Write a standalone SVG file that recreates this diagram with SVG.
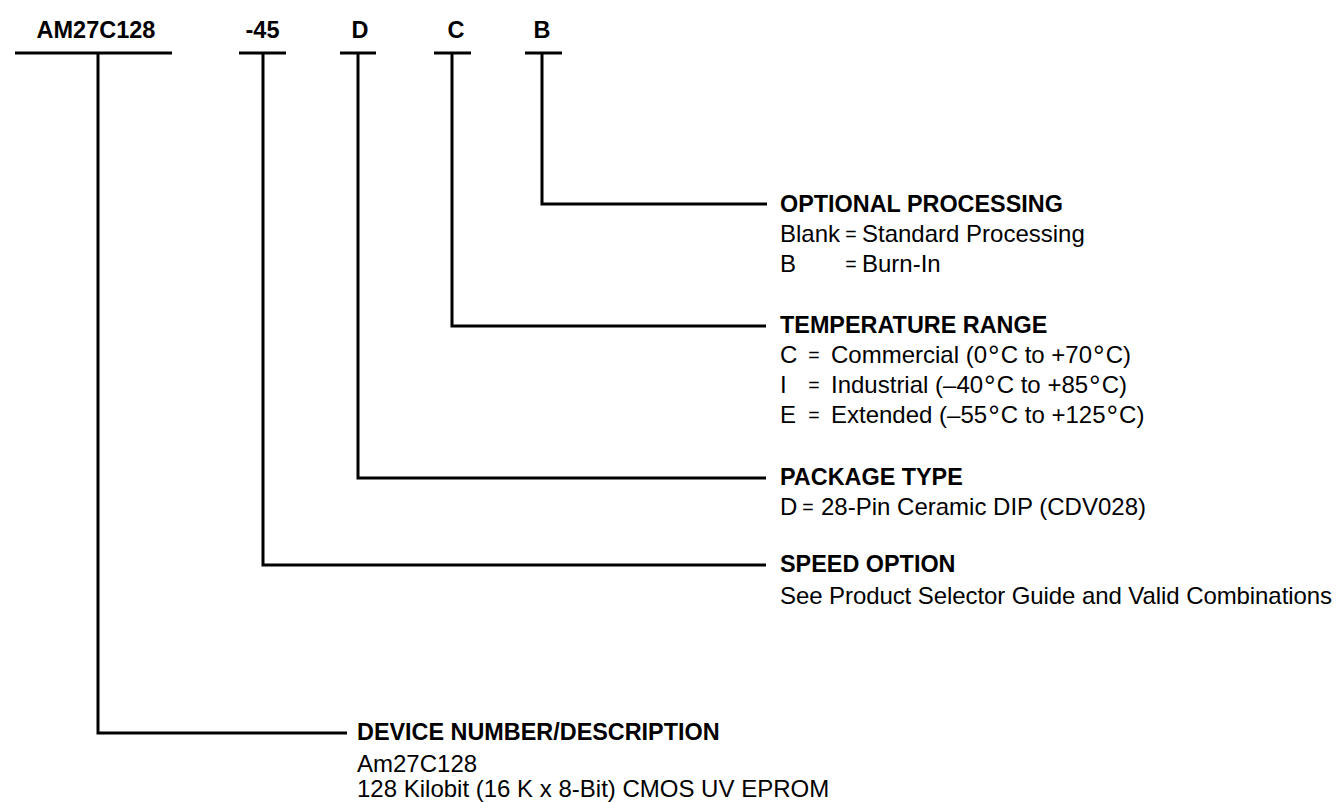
<svg xmlns="http://www.w3.org/2000/svg" width="1338" height="802" viewBox="0 0 1338 802">
<style>
  text { font-family: "Liberation Sans", Arial, Helvetica, sans-serif; fill: #000; }
  .lbl { font-size: 23.5px; font-weight: bold; text-anchor: middle; }
  .hd { font-size: 23.4px; font-weight: bold; }
  .bd { font-size: 24px; }
  .eq { font-size: 19.5px; text-anchor: middle; }
  .dg { font-size: 29px; }
  .ln { fill: none; stroke: #000; stroke-width: 3; }
</style>
<rect width="1338" height="802" fill="#fff"/>
<g id="connectors">
  <line class="ln" x1="15" y1="53" x2="172" y2="53"/>
  <line class="ln" x1="239" y1="53" x2="286" y2="53"/>
  <line class="ln" x1="340" y1="53" x2="376" y2="53"/>
  <line class="ln" x1="434" y1="53" x2="471" y2="53"/>
  <line class="ln" x1="525" y1="53" x2="562" y2="53"/>
  <path class="ln" d="M98,53 V733 H347"/>
  <path class="ln" d="M263,53 V565 H766"/>
  <path class="ln" d="M358,53 V478 H766"/>
  <path class="ln" d="M452,53 V326 H766"/>
  <path class="ln" d="M542,53 V204 H767"/>
</g>
<g id="label-device"><text class="lbl" x="96" y="38">AM27C128</text></g>
<g id="label-speed"><text class="lbl" x="262.5" y="38">-45</text></g>
<g id="label-package"><text class="lbl" x="360" y="38">D</text></g>
<g id="label-temp"><text class="lbl" x="456" y="38">C</text></g>
<g id="label-proc"><text class="lbl" x="542" y="38">B</text></g>
<g id="optional-processing">
  <text class="hd" x="780" y="212">OPTIONAL PROCESSING</text>
  <text class="bd" x="780" y="242">Blank</text>
  <text class="eq" x="851" y="241">=</text>
  <text class="bd" x="862" y="242">Standard Processing</text>
  <text class="bd" x="780" y="272">B</text>
  <text class="eq" x="851" y="271">=</text>
  <text class="bd" x="862" y="272">Burn-In</text>
</g>
<g id="temperature-range">
  <text class="hd" x="780" y="333">TEMPERATURE RANGE</text>
  <text class="bd" x="780" y="363">C</text>
  <text class="eq" x="814" y="362">=</text>
  <text class="bd" x="831" y="363">Commercial (0<tspan class="dg" dx="1" dy="3">°</tspan><tspan dx="1" dy="-3">C to +70</tspan><tspan class="dg" dx="1" dy="3">°</tspan><tspan dx="1" dy="-3">C)</tspan></text>
  <text class="bd" x="780" y="393">I</text>
  <text class="eq" x="814" y="392">=</text>
  <text class="bd" x="831" y="393">Industrial (–40<tspan class="dg" dx="1" dy="3">°</tspan><tspan dx="1" dy="-3">C to +85</tspan><tspan class="dg" dx="1" dy="3">°</tspan><tspan dx="1" dy="-3">C)</tspan></text>
  <text class="bd" x="780" y="423">E</text>
  <text class="eq" x="814" y="422">=</text>
  <text class="bd" x="831" y="423">Extended (–55<tspan class="dg" dx="1" dy="3">°</tspan><tspan dx="1" dy="-3">C to +125</tspan><tspan class="dg" dx="1" dy="3">°</tspan><tspan dx="1" dy="-3">C)</tspan></text>
</g>
<g id="package-type">
  <text class="hd" x="780" y="485">PACKAGE TYPE</text>
  <text class="bd" x="780" y="515">D</text>
  <text class="eq" x="808" y="514">=</text>
  <text class="bd" x="821" y="515">28-Pin Ceramic DIP (CDV028)</text>
</g>
<g id="speed-option">
  <text class="hd" x="780" y="572">SPEED OPTION</text>
  <text class="bd" x="780" y="604" textLength="552">See Product Selector Guide and Valid Combinations</text>
</g>
<g id="device-number">
  <text class="hd" x="357" y="740">DEVICE NUMBER/DESCRIPTION</text>
  <text class="bd" x="357" y="772">Am27C128</text>
  <text class="bd" x="357" y="797">128 Kilobit (16 K x 8-Bit) CMOS UV EPROM</text>
</g>
</svg>
